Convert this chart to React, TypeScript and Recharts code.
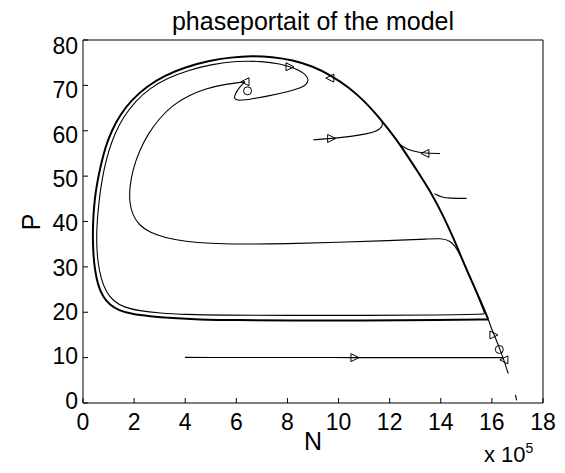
import React from "react";
import { ComposedChart, Line, Scatter, XAxis, YAxis } from "recharts";

// N in units of 1e5, P
const xTicks = [0, 2, 4, 6, 8, 10, 12, 14, 16, 18];
const yTicks = [0, 10, 20, 30, 40, 50, 60, 70, 80];

const limitCycle: [number, number][] = [
  [15.86, 18.4], [14, 18.25], [11, 18.2], [8, 18.2], [6, 18.25], [4.5, 18.4],
  [3.5, 18.7], [2.6, 19.1], [1.9, 19.6], [1.4, 20.4], [1.05, 21.6], [0.78, 23.4],
  [0.58, 26], [0.46, 29.5], [0.4, 33], [0.38, 37], [0.4, 41], [0.46, 45],
  [0.55, 48.5], [0.7, 52.5], [0.88, 56.5], [1.12, 60], [1.45, 63.5], [1.9, 66.8],
  [2.5, 69.8], [3.2, 72.2], [4.0, 74], [4.9, 75.4], [5.8, 76.2], [6.6, 76.5],
  [7.4, 76.3], [8.2, 75.6], [9.0, 74.2], [9.7, 72.2], [10.4, 69.6], [11.0, 66.6],
  [11.5, 63.5], [12.0, 60], [12.5, 56.2], [13.06, 51.3], [13.6, 46.6], [14.1, 41.2],
  [14.5, 36.3], [14.85, 31.5], [15.2, 27], [15.55, 22.6], [15.86, 18.4],
];

const saddleTail: [number, number][] = [
  [15.86, 18.4], [16.0, 16.1], [16.32, 12.0], [16.64, 6.5],
];

const spiralRun: [number, number][] = [
  [6.34, 70.8], [5.6, 70.3], [4.8, 69.3], [4.1, 67.7], [3.5, 65.6], [3.0, 62.8],
  [2.55, 59.4], [2.2, 55.5], [1.95, 51.5], [1.82, 47.5], [1.82, 44], [1.95, 41.3],
  [2.2, 39.2], [2.6, 37.6], [3.2, 36.4], [4.0, 35.6], [5, 35.15], [6, 35.0],
  [8, 35.1], [10, 35.4], [12, 35.8], [13.5, 36.1], [14.45, 36.5], [14.85, 31.5],
  [15.2, 27], [15.5, 23], [15.73, 19.6], [15.73, 19.6], [14, 19.35], [11, 19.3],
  [8, 19.3], [5.5, 19.35], [4, 19.5], [3, 19.8], [2.2, 20.3], [1.6, 21.1],
  [1.2, 22.4], [0.9, 24.5], [0.7, 27.5], [0.58, 31], [0.53, 35], [0.54, 39],
  [0.6, 43], [0.68, 47], [0.82, 51.5], [1.0, 55.5], [1.25, 59.5], [1.6, 63.2],
  [2.05, 66.5], [2.6, 69.3], [3.3, 71.6], [4.1, 73.3], [5.0, 74.6], [6.0, 75.4],
  [7.0, 75.3], [7.7, 74.8], [8.3, 73.8], [8.75, 72.4], [8.85, 70.8], [8.6, 69.5],
  [8.0, 68.6], [7.3, 67.7], [6.6, 67.0], [6.1, 66.6], [5.9, 67.0], [5.95, 68.0],
  [6.1, 69.5], [6.34, 70.8],
];

const runA: [number, number][] = [
  [9.01, 58.0], [9.73, 58.3], [10.5, 58.75], [11.1, 59.3], [11.5, 59.9],
  [11.7, 60.8], [11.72, 61.6], [11.69, 62.1],
];
const runB: [number, number][] = [
  [13.97, 55.0], [13.38, 55.0], [12.9, 55.5], [12.6, 56.2], [12.4, 57.0],
];
const runC: [number, number][] = [
  [15.01, 45.1], [14.36, 45.1], [14.0, 45.4], [13.75, 46.1],
];
const runD: [number, number][] = [[3.99, 10.05], [10.64, 10.0], [16.45, 10.0]];
const runE: [number, number][] = [[16.92, 1.8], [16.97, 0.6]];

const rightMarks: [number, number][] = [[8.1, 74.1], [9.73, 58.3], [10.64, 10.0], [16.08, 15.0]];
const leftMarks: [number, number][] = [[6.34, 70.8], [9.66, 71.6], [13.38, 55.0], [16.47, 9.5]];
const circleMarks: [number, number][] = [[6.44, 68.8], [16.29, 11.8]];

const pts = (a: [number, number][]) => a.map(([n, p]) => ({ n, p }));

const font = "'Liberation Sans', Arial, Helvetica, sans-serif";

function TriRight(props: any) {
  const { cx, cy } = props;
  return (
    <polygon
      points={`${cx + 4},${cy} ${cx - 4},${cy - 4} ${cx - 4},${cy + 4}`}
      fill="none"
      stroke="#000"
    />
  );
}

function TriLeft(props: any) {
  const { cx, cy } = props;
  return (
    <polygon
      points={`${cx - 4},${cy} ${cx + 4},${cy - 4} ${cx + 4},${cy + 4}`}
      fill="none"
      stroke="#000"
    />
  );
}

function Ring(props: any) {
  const { cx, cy } = props;
  return <circle cx={cx} cy={cy} r={4} fill="none" stroke="#000" />;
}

function XTick(props: any) {
  const { x, y, payload } = props;
  return (
    <text x={x} y={y} dy="0.72em" textAnchor="middle" fontSize={23} fontFamily={font} fill="#000">
      {payload.value}
    </text>
  );
}

// labels in the original sit a little lower at the top than at the bottom
function YTick(props: any) {
  const { x, y, payload } = props;
  const shift = 5.8 - (80 - payload.value) * 0.107;
  return (
    <text x={x} y={y + shift} dy="0.36em" textAnchor="end" fontSize={23} fontFamily={font} fill="#000">
      {payload.value}
    </text>
  );
}

const thin = [spiralRun, runA, runB, runC, runD, runE, saddleTail];

export default function App() {
  return (
    <div style={{ position: "relative", width: 557, height: 465, fontFamily: font, color: "#000" }}>
      <ComposedChart width={557} height={465} margin={{ top: 31, right: 21, left: 0, bottom: 0 }}>
        <XAxis
          dataKey="n"
          type="number"
          domain={[0, 18]}
          ticks={xTicks}
          height={70}
          tickSize={-5}
          tickMargin={15}
          tick={<XTick />}
          axisLine={{ stroke: "#000" }}
          tickLine={{ stroke: "#000" }}
        />
        <XAxis
          xAxisId="top"
          orientation="top"
          type="number"
          domain={[0, 18]}
          ticks={xTicks}
          height={1}
          tickSize={-5}
          tick={false}
          axisLine={{ stroke: "#000" }}
          tickLine={{ stroke: "#000" }}
        />
        <YAxis
          dataKey="p"
          type="number"
          domain={[0, 80]}
          ticks={yTicks}
          width={75}
          tickSize={-5}
          tickMargin={10}
          tick={<YTick />}
          axisLine={{ stroke: "#000" }}
          tickLine={{ stroke: "#000" }}
        />
        <YAxis
          yAxisId="right"
          orientation="right"
          type="number"
          domain={[0, 80]}
          ticks={yTicks}
          width={1}
          tickSize={-5}
          tick={false}
          axisLine={{ stroke: "#000" }}
          tickLine={{ stroke: "#000" }}
        />
        <Line
          data={pts(limitCycle)}
          dataKey="p"
          type="basis"
          stroke="#000"
          strokeWidth={2}
          dot={false}
          activeDot={false}
          isAnimationActive={false}
        />
        {thin.map((t, i) => (
          <Line
            key={i}
            data={pts(t)}
            dataKey="p"
            type="basis"
            stroke="#000"
            strokeWidth={1.1}
            dot={false}
            activeDot={false}
            isAnimationActive={false}
          />
        ))}
        <Scatter data={pts(rightMarks)} dataKey="p" shape={<TriRight />} isAnimationActive={false} />
        <Scatter data={pts(leftMarks)} dataKey="p" shape={<TriLeft />} isAnimationActive={false} />
        <Scatter data={pts(circleMarks)} dataKey="p" shape={<Ring />} isAnimationActive={false} />
      </ComposedChart>
      <div style={{ position: "absolute", left: 0, width: 610, top: 1, textAlign: "center", fontSize: 25, lineHeight: "25px" }}>
        phaseportait of the model
      </div>
      <div style={{ position: "absolute", left: 0, width: 610, top: 421, textAlign: "center", fontSize: 25, lineHeight: "25px" }}>
        N
      </div>
      <div
        style={{
          position: "absolute",
          left: 23,
          top: 214,
          fontSize: 25,
          lineHeight: "25px",
          transform: "translate(-50%, -50%) rotate(-90deg)",
        }}
      >
        P
      </div>
      <div style={{ position: "absolute", left: 476, top: 436, fontSize: 22, lineHeight: "22px", whiteSpace: "nowrap" }}>
        x 10<sup style={{ fontSize: 14, position: "absolute", top: -7 }}>5</sup>
      </div>
    </div>
  );
}
